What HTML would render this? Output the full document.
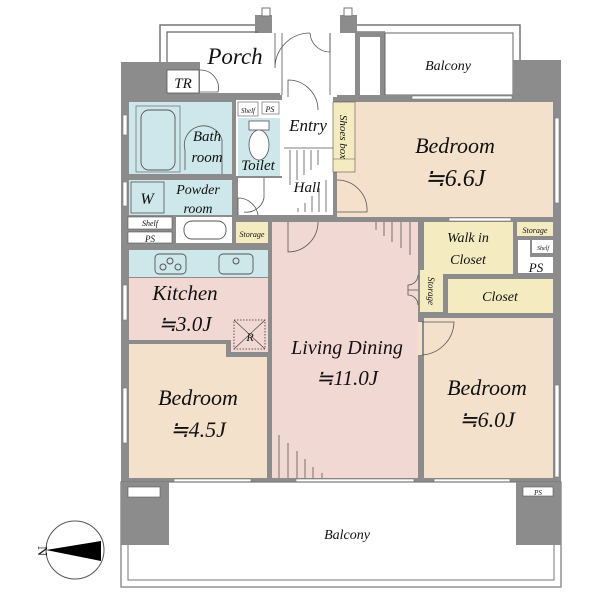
<!DOCTYPE html>
<html><head><meta charset="utf-8"><style>
html,body{margin:0;padding:0;background:#fff;}
svg{display:block;}
text{font-family:"Liberation Serif",serif;font-style:italic;fill:#111;text-anchor:middle;}
</style></head><body>
<svg width="600" height="600" viewBox="0 0 600 600" xmlns="http://www.w3.org/2000/svg">
<!-- porch / top outlines -->
<path d="M160,62 V25 H262" fill="none" stroke="#777" stroke-width="1.5"/>
<path d="M357,25 H520 V62" fill="none" stroke="#777" stroke-width="1.5"/>
<rect x="255" y="15" width="17" height="18" fill="#8c8c8c"/>
<rect x="262" y="8" width="8" height="8" fill="#fff" stroke="#777"/>
<rect x="340" y="15" width="17" height="18" fill="#8c8c8c"/>
<rect x="344" y="8" width="8" height="8" fill="#fff" stroke="#777"/>
<path d="M167,95 V32 H258" fill="none" stroke="#666" stroke-width="1.2"/>
<path d="M357,32 H385" fill="none" stroke="#666" stroke-width="1.2"/>
<rect x="355" y="32" width="5" height="65" fill="#8c8c8c"/>
<rect x="355" y="32" width="27" height="5" fill="#8c8c8c"/>
<rect x="363" y="37" width="12" height="10" fill="#fff"/>
<rect x="380" y="32" width="5" height="65" fill="#8c8c8c"/>
<rect x="385" y="33" width="128" height="62" fill="#fff" stroke="#666" stroke-width="1"/>
<!-- main grey block -->
<rect x="121" y="95" width="440" height="387" fill="#8c8c8c"/>
<rect x="121" y="62" width="79" height="35" fill="#8c8c8c"/>
<rect x="513" y="60" width="48" height="37" fill="#8c8c8c"/>
<rect x="167" y="70" width="32" height="23" fill="#fff" stroke="#555" stroke-width="0.8"/>
<path d="M200,70 A18,18 0 0 1 218,92 H200" fill="none" stroke="#555" stroke-width="0.8"/>
<rect x="200" y="93" width="80" height="4" fill="#8c8c8c"/>
<rect x="282" y="93" width="55" height="4" fill="#fff"/>
<!-- door arcs porch -->
<path d="M275,33 V68 A35,35 0 0 1 310,33" fill="none" stroke="#555" stroke-width="0.8"/>
<path d="M310,33 A20,20 0 0 0 330,52 V33" fill="none" stroke="#555" stroke-width="0.8"/>
<line x1="282" y1="33" x2="282" y2="95" stroke="#555" stroke-width="0.8"/>
<line x1="330" y1="33" x2="330" y2="95" stroke="#555" stroke-width="0.8"/>
<!-- entry/hall white -->
<rect x="282" y="97" width="51" height="118" fill="#fff"/>
<rect x="238" y="178" width="46" height="37" fill="#fff"/>
<line x1="284" y1="148" x2="333" y2="148" stroke="#555" stroke-width="0.8"/>
<g stroke="#555" stroke-width="0.8">
<line x1="290" y1="150" x2="290" y2="185"/><line x1="297" y1="150" x2="297" y2="180"/><line x1="304" y1="150" x2="304" y2="175"/><line x1="311" y1="150" x2="311" y2="170"/><line x1="318" y1="150" x2="318" y2="165"/>
<line x1="326" y1="212" x2="326" y2="180"/><line x1="319" y1="212" x2="319" y2="188"/><line x1="312" y1="212" x2="312" y2="196"/><line x1="305" y1="212" x2="305" y2="203"/><line x1="298" y1="212" x2="298" y2="208"/>
</g>
<path d="M288,97 V80 A30,30 0 0 1 318,110" fill="none" stroke="#555" stroke-width="0.8"/>
<!-- bath -->
<rect x="129" y="102" width="103" height="72" fill="#cde7ea"/>
<rect x="141" y="110" width="34" height="60" rx="8" fill="none" stroke="#555" stroke-width="0.9"/>
<rect x="136" y="106" width="44" height="66" fill="none" stroke="#555" stroke-width="0.6"/>
<path d="M185,170 V150 A18,18 0 0 1 222,140 V174" fill="none" stroke="#555" stroke-width="0.8"/>
<rect x="129" y="180" width="103" height="35" fill="#cde7ea"/>
<rect x="131" y="182" width="33" height="31" fill="none" stroke="#555" stroke-width="0.8"/>
<rect x="128" y="217" width="44" height="12" fill="#fff" stroke="#555" stroke-width="0.6"/>
<rect x="128" y="232" width="44" height="11" fill="#fff" stroke="#555" stroke-width="0.6"/>
<rect x="176" y="217" width="56" height="26" fill="#fff"/>
<rect x="184" y="221" width="42" height="18" rx="8" fill="none" stroke="#555" stroke-width="0.9"/>
<!-- toilet -->
<rect x="236" y="100" width="46" height="76" fill="#fff"/>
<rect x="238" y="118" width="42" height="58" fill="#cde7ea"/>
<rect x="238" y="102" width="20" height="14" fill="#fff" stroke="#555" stroke-width="0.6"/>
<rect x="262" y="102" width="17" height="12" fill="#fff" stroke="#555" stroke-width="0.6"/>
<rect x="249" y="121" width="20" height="9" fill="#fff" stroke="#555" stroke-width="0.8"/>
<ellipse cx="259" cy="145" rx="10" ry="15" fill="#fff" stroke="#555" stroke-width="0.8"/>
<path d="M238,215 V198 A20,20 0 0 1 258,215" fill="none" stroke="#555" stroke-width="0.8"/>
<path d="M264,178 V198 A18,18 0 0 1 244,212" fill="none" stroke="#555" stroke-width="0.8"/>
<rect x="236" y="222" width="32" height="21" fill="#f4ecc0"/>
<!-- kitchen -->
<rect x="129" y="250" width="139" height="27" fill="#cde7ea"/>
<rect x="155" y="254" width="31" height="20" rx="4" fill="none" stroke="#555" stroke-width="0.9"/>
<circle cx="163" cy="267" r="3" fill="none" stroke="#555"/><circle cx="170" cy="261" r="3" fill="none" stroke="#555"/><circle cx="178" cy="267" r="3" fill="none" stroke="#555"/>
<rect x="219" y="254" width="34" height="20" rx="4" fill="none" stroke="#555" stroke-width="0.9"/>
<circle cx="236" cy="261" r="3" fill="none" stroke="#555"/>
<path d="M129,278 H268 V352 H231 V340 H129 Z" fill="#f2d8d3"/>
<rect x="234" y="320" width="31" height="29" fill="#f2d8d3" stroke="#333" stroke-width="0.8" stroke-dasharray="1.5,1.5"/>
<line x1="234" y1="320" x2="265" y2="349" stroke="#333" stroke-width="0.6"/><line x1="265" y1="320" x2="234" y2="349" stroke="#333" stroke-width="0.6"/>
<path d="M129,344 H226 V357 H267 V478 H129 Z" fill="#f3e1cc"/>
<!-- living -->
<rect x="272" y="222" width="146" height="256" fill="#f2d8d3"/>
<path d="M288,222 V252 A30,30 0 0 0 318,222" fill="none" stroke="#555" stroke-width="0.8"/>
<g stroke="#555" stroke-width="0.8">
<line x1="410" y1="222" x2="410" y2="255"/><line x1="401" y1="222" x2="401" y2="248"/><line x1="392" y1="222" x2="392" y2="242"/><line x1="384" y1="222" x2="384" y2="236"/><line x1="376" y1="222" x2="376" y2="230"/>
<line x1="279" y1="478" x2="279" y2="435"/><line x1="288" y1="478" x2="288" y2="443"/><line x1="297" y1="478" x2="297" y2="451"/><line x1="305" y1="478" x2="305" y2="459"/><line x1="313" y1="478" x2="313" y2="467"/><line x1="322" y1="478" x2="322" y2="473"/>
</g>
<!-- bedroom 6.6 -->
<path d="M355,102 H553 V217 H337 V172 H355 Z" fill="#f3e1cc"/>
<rect x="333" y="102" width="22" height="70" fill="#f4ecc0" stroke="#555" stroke-width="0.6"/>
<line x1="333" y1="159" x2="355" y2="159" stroke="#555" stroke-width="0.6"/>
<path d="M337,180 A30,30 0 0 1 367,212 H337" fill="none" stroke="#555" stroke-width="0.8"/>
<!-- closets -->
<rect x="424" y="222" width="89" height="52" fill="#f4ecc0"/>
<rect x="517" y="222" width="36" height="14" fill="#f4ecc0"/>
<rect x="518" y="240" width="12" height="33" fill="#fff"/>
<rect x="532" y="240" width="21" height="13" fill="#fff"/>
<rect x="518" y="257" width="35" height="16" fill="#fff"/>
<rect x="448" y="279" width="105" height="34" fill="#f4ecc0"/>
<rect x="420" y="270" width="23" height="42" fill="#f4ecc0"/>
<path d="M418,275 A10,10 0 0 1 408,285 V290 H418 M418,305 A10,10 0 0 0 408,295 V290" fill="none" stroke="#555" stroke-width="0.8"/>
<!-- bedroom 6.0 -->
<rect x="424" y="318" width="129" height="160" fill="#f3e1cc"/>
<path d="M420,322 H454 A34,34 0 0 1 420,355" fill="none" stroke="#555" stroke-width="0.8"/>
<rect x="418" y="322" width="4" height="33" fill="#f3e1cc"/>
<!-- windows -->
<g fill="#fff" stroke="#777" stroke-width="0.6">
<rect x="123" y="285" width="4" height="35"/><rect x="123" y="388" width="4" height="55"/>
<rect x="123" y="115" width="4" height="20"/><rect x="123" y="182" width="4" height="24"/>
<rect x="555" y="118" width="4" height="85"/><rect x="555" y="385" width="4" height="92"/>
<rect x="174" y="479" width="77" height="3"/><rect x="296" y="479" width="118" height="3"/><rect x="434" y="479" width="76" height="3"/>
<rect x="412" y="96" width="100" height="3"/><rect x="449" y="218" width="62" height="3"/>
</g>
<!-- bottom balcony -->
<rect x="121" y="482" width="440" height="105" fill="#fff" stroke="#777" stroke-width="1.2"/>
<path d="M128,482 V580 H554 V482" fill="none" stroke="#777" stroke-width="1"/>
<rect x="121" y="482" width="48" height="63" fill="#8c8c8c"/>
<rect x="128" y="487" width="32" height="10" fill="#fff" stroke="#555" stroke-width="0.6"/>
<rect x="516" y="482" width="45" height="63" fill="#8c8c8c"/>
<rect x="523" y="487" width="30" height="9" fill="#fff" stroke="#555" stroke-width="0.6"/>
<!-- compass -->
<circle cx="75" cy="550" r="29" fill="#fff" stroke="#555" stroke-width="1"/>
<polygon points="46,550 101,541 101,561" fill="#000"/>
<text x="38" y="551" font-size="14" transform="rotate(90 38 551)" style="font-style:normal">N</text>
<!-- labels -->
<text x="235" y="64" font-size="23">Porch</text>
<text x="183" y="88" font-size="15">TR</text>
<text x="448" y="70" font-size="14">Balcony</text>
<text x="308" y="131" font-size="17">Entry</text>
<text x="344" y="137" font-size="11" transform="rotate(90 344 137)" dy="4">Shoes box</text>
<text x="248" y="113" font-size="7">Shelf</text>
<text x="270" y="112" font-size="8">PS</text>
<text x="207" y="141" font-size="15">Bath</text>
<text x="207" y="162" font-size="15">room</text>
<text x="258" y="170" font-size="15">Toilet</text>
<text x="307" y="192" font-size="15">Hall</text>
<text x="455" y="153" font-size="22">Bedroom</text>
<text x="455" y="186" font-size="24">≒6.6J</text>
<text x="147" y="204" font-size="16">W</text>
<text x="198" y="194" font-size="14">Powder</text>
<text x="198" y="213" font-size="14">room</text>
<text x="150" y="226" font-size="8">Shelf</text>
<text x="150" y="242" font-size="9">PS</text>
<text x="252" y="237" font-size="8">Storage</text>
<text x="468" y="242" font-size="14">Walk in</text>
<text x="468" y="264" font-size="14">Closet</text>
<text x="535" y="233" font-size="8">Storage</text>
<text x="543" y="250" font-size="6">Shelf</text>
<text x="536" y="272" font-size="13">PS</text>
<text x="500" y="301" font-size="14">Closet</text>
<text x="431" y="291" font-size="9" transform="rotate(90 431 291)" dy="3">Storage</text>
<text x="185" y="300" font-size="21">Kitchen</text>
<text x="185" y="331" font-size="21">≒3.0J</text>
<text x="250" y="341" font-size="12">R</text>
<text x="347" y="354" font-size="20">Living Dining</text>
<text x="347" y="385" font-size="21">≒11.0J</text>
<text x="198" y="405" font-size="22">Bedroom</text>
<text x="198" y="437" font-size="22">≒4.5J</text>
<text x="487" y="395" font-size="22">Bedroom</text>
<text x="487" y="427" font-size="22">≒6.0J</text>
<text x="347" y="539" font-size="14">Balcony</text>
<text x="538" y="495" font-size="7">PS</text>
</svg>
</body></html>
